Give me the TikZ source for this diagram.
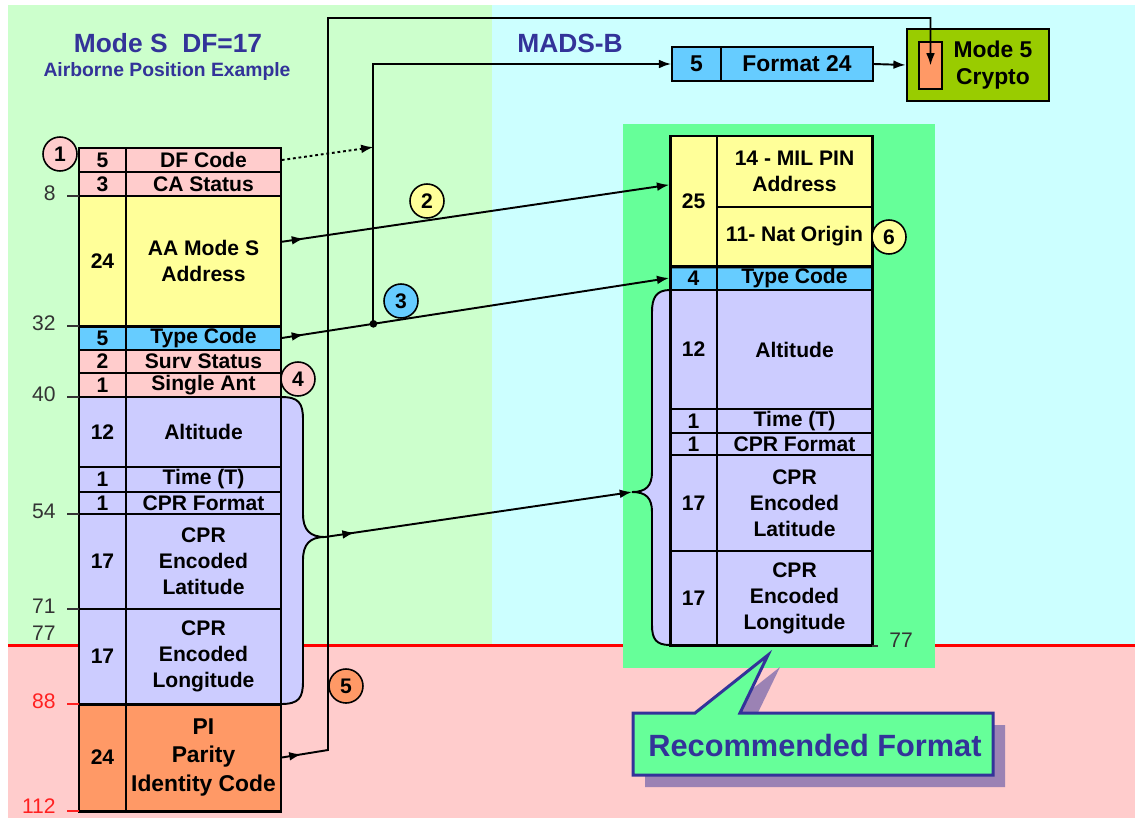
\documentclass[tikz,border=0pt]{standalone}
\usepackage{fontspec}
\setmainfont{Liberation Sans}
\usetikzlibrary{calc,arrows.meta,positioning,decorations.markings}
\definecolor{bggreen}{HTML}{CCFFCC}
\definecolor{bgcyan}{HTML}{CCFFFF}
\definecolor{bgpink}{HTML}{FFCCCC}
\definecolor{hlgreen}{HTML}{66FF99}
\definecolor{pinkc}{HTML}{FFCCCC}
\definecolor{yelc}{HTML}{FFFF99}
\definecolor{bluec}{HTML}{66CCFF}
\definecolor{lavc}{HTML}{CCCCFF}
\definecolor{orc}{HTML}{FF9966}
\definecolor{cryc}{HTML}{99CC00}
\definecolor{navyc}{HTML}{333399}
\definecolor{shadc}{HTML}{9B82B4}
\definecolor{tickc}{HTML}{333333}
\definecolor{redc}{HTML}{FF2020}
\tikzset{
  cellbox/.style args={#1:#2:#3:#4}{rectangle,inner sep=0pt,
    minimum width={(#3-#1)*0.02cm},minimum height={(#4-#2)*0.02cm},
    at={({(#1+#3)/2},{(#2+#4)/2})}},
  cell/.style={draw,line width=0.9pt,align=center,font=\bfseries\fontsize{12}{14.8}\selectfont},
  outer/.style={draw,line width=1.7pt},
  conn/.style={line width=1.1pt,-{Latex[length=7pt,width=5pt]}},
  midarr/.style={postaction={decorate},decoration={markings,mark=at position #1 with {\arrow{Latex[length=7pt,width=5pt]}}}},
  num/.style={circle,draw,line width=0.9pt,minimum size=0.68cm,inner sep=0pt,font=\bfseries\fontsize{12}{14}\selectfont},
  bitlbl/.style={font=\fontsize{12}{14}\selectfont,text=tickc,anchor=east,inner sep=0pt},
  ttl/.style={text=navyc,font=\bfseries\fontsize{15}{18}\selectfont},
  brc/.style={line width=1.1pt,fill=lavc}
}

\begin{document}
\begin{tikzpicture}[x=0.02cm,y=-0.02cm]
\useasboundingbox (0,0) rectangle (1135,818);
% background zones
\fill[bggreen] (8,5) rectangle (492,645);
\fill[bgcyan] (492,5) rectangle (1135,645);
\fill[bgpink] (8,645) rectangle (1135,818);
\draw[red,line width=1.7pt] (8,645) -- (1135,645);
\fill[hlgreen] (623,124) rectangle (935,668);

\node[ttl] (ttlS) at (168,43) {Mode S\ \ DF=17};
\node[ttl,font=\bfseries\fontsize{11}{13}\selectfont] (ttlSub) at (167,72) {Airborne Position Example};
\node[ttl] (ttlM) at (570,43) {MADS-B};

% braces
\draw[brc] (281,397) .. controls (299,397) and (303,403) .. (303,420) -- (303,514)
  .. controls (303,530) and (310,537) .. (325,537) coordinate (braceL)
  .. controls (310,537) and (303,544) .. (303,560) -- (303,681)
  .. controls (303,698) and (299,704) .. (281,704);
\draw[brc] (670,290) .. controls (656,290) and (652,298) .. (652,312) -- (652,472)
  .. controls (652,486) and (646,492) .. (632,492) coordinate (braceR)
  .. controls (646,492) and (652,498) .. (652,512) -- (652,625)
  .. controls (652,639) and (656,645) .. (670,645);

% DF=17 squitter
\foreach \ya/\yb/\col/\nv/\txt/\nm in {
  148/172/pinkc/5/DF Code/df,
  172/196/pinkc/3/CA Status/ca,
  196/326/yelc/24/{AA Mode S\\Address}/aa,
  326/350/bluec/5/Type Code/tc,
  350/373/pinkc/2/Surv Status/surv,
  373/397/pinkc/1/Single Ant/ant,
  397/467/lavc/12/Altitude/alt,
  467/492/lavc/1/Time (T)/time,
  492/514/lavc/1/CPR Format/cprf,
  514/609/lavc/17/{CPR\\Encoded\\Latitude}/lat,
  609/704/lavc/17/{CPR\\Encoded\\Longitude}/lon}
{
  \node[cell,fill=\col,cellbox=79:\ya:126:\yb] (\nm-n) {\nv};
  \node[cell,fill=\col,cellbox=126:\ya:281:\yb] (\nm) {\txt};
}
\node[cell,fill=orc,cellbox=79:704:126:811] (pi-n) {24};
\node[cell,fill=orc,cellbox=126:704:281:811,font=\bfseries\fontsize{13}{16}\selectfont] (pi) {PI\\Parity\\Identity Code};
\draw[outer] (79,148) rectangle (281,811);
\draw[line width=1.7pt] (aa-n.south west) -- (aa.south east);
\draw[line width=1.7pt] (lon-n.south west) -- (lon.south east);

% bit positions
\foreach \yy/\lb in {196/8,326/32,397/40,514/54,609/71}
{
  \draw[tickc,line width=0.6pt] (67,\yy) -- (79,\yy);
  \node[bitlbl] (b\lb) at (56,\yy-3) {\lb};
}
\node[bitlbl] (b77) at (56,633) {77};
\draw[redc,line width=0.6pt] (67,704) -- (79,704);
\node[bitlbl,text=redc] (b88) at (56,701) {88};
\draw[redc,line width=0.6pt] (67,811) -- (79,811);
\node[bitlbl,text=redc] (b112) at (56,806) {112};

% MADS-B format
\node[cell,fill=yelc,cellbox=670:136:717:266] (r25-n) {25};
\node[cell,fill=yelc,cellbox=717:136:872:207] (mil) {14 - MIL PIN\\Address};
\node[cell,fill=yelc,cellbox=717:207:872:266] (nat) {11- Nat Origin};
\foreach \ya/\yb/\col/\nv/\txt/\nm in {
  266/290/bluec/4/Type Code/tcR,
  290/409/lavc/12/Altitude/altR,
  409/433/lavc/1/Time (T)/timeR,
  433/455/lavc/1/CPR Format/cprfR,
  455/551/lavc/17/{CPR\\Encoded\\Latitude}/latR,
  551/645/lavc/17/{CPR\\Encoded\\Longitude}/lonR}
{
  \node[cell,fill=\col,cellbox=670:\ya:717:\yb] (\nm-n) {\nv};
  \node[cell,fill=\col,cellbox=717:\ya:872:\yb] (\nm) {\txt};
}
\draw[outer] (670,136) rectangle (872,645);
\draw[line width=1.7pt] (r25-n.south west) -- (nat.south east);
\draw[tickc,line width=0.6pt] (872,646) -- (878,646);
\node[bitlbl,anchor=center] (b77R) at (901,640) {77};

% Format 24 and crypto
\node[cell,fill=bluec,cellbox=672:47:721:81,font=\bfseries\fontsize{13}{15}\selectfont] (fmt-n) {5};
\node[cell,fill=bluec,cellbox=721:47:873:81,font=\bfseries\fontsize{13}{15}\selectfont] (fmt) {Format 24};
\node[draw,line width=1.5pt,fill=cryc,cellbox=907:29:1049:101] (crypto) {};
\node[draw,line width=0.7pt,fill=orc,cellbox=919:42:942:89] (key) {};
\node[align=center,font=\bfseries\fontsize{13}{15.5}\selectfont] (cryptotxt) at (993,65) {Mode 5\\Crypto};

% connectors
\draw[conn,midarr=0.45cm] ($(aa.north east)!0.354!(aa.south east)$) -- ($(r25-n.north west)!0.377!(r25-n.south west)$);
\draw[conn,midarr=0.45cm] (tc.east) -- coordinate[pos=0.2365] (tap) (tcR-n.west);
\fill (tap) circle[radius=2.2pt];
\coordinate (busB) at (tap |- fmt-n.west);
\draw[conn] (tap) -- (busB) -- (fmt-n.west);
\draw[line width=1.1pt,dash pattern=on 1.6pt off 1.6pt,-{Latex[length=7pt,width=5pt]}] (df.east) -- ($(busB)!0.32!(tap)$);
\coordinate (busA) at (328,750);
\coordinate (topA) at (328,18);
\draw[conn,midarr=0.4cm] (pi.east) -- (busA) -- (topA) -| (key.center);
\draw[conn] (fmt.east) -- (crypto.west);
\draw[conn,midarr=0.6cm] (braceL) -- (braceR);

% numbered markers
\node[num,fill=pinkc] (m1) at (60,154) {1};
\node[num,fill=yelc] (m2) at (427,201) {2};
\node[num,fill=bluec] (m3) at (401,301) {3};
\node[num,fill=pinkc] (m4) at (298,379) {4};
\node[num,fill=orc] (m5) at (346,686) {5};
\node[num,fill=yelc] (m6) at (889,237) {6};

% callout
\fill[shadc,shift={(12,12)}] (633,713) -- (695,713) -- (768,655) -- (740,713) -- (993,713) -- (993,775) -- (633,775) -- cycle;
\draw[navyc,line width=1.7pt,fill=hlgreen] (633,713) -- (695,713) -- (768,655) -- (740,713) -- (993,713) -- (993,775) -- (633,775) -- cycle;
\node[text=navyc,font=\bfseries\fontsize{17.5}{20}\selectfont] (rec) at (815,745) {Recommended Format};
\end{tikzpicture}
\end{document}
